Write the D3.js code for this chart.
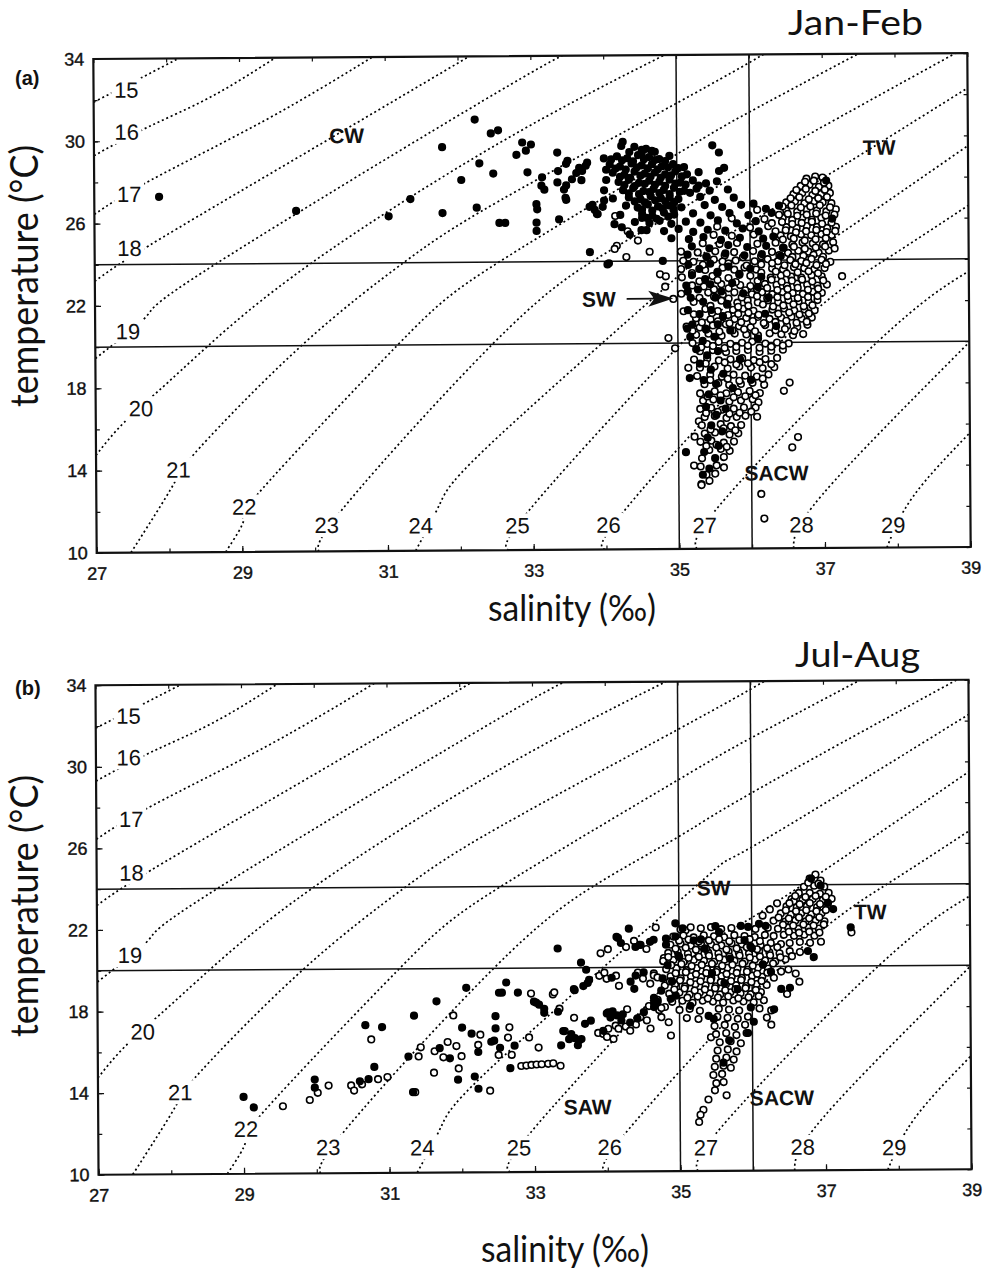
<!DOCTYPE html>
<html>
<head>
<meta charset="utf-8">
<script src="https://cdn.jsdelivr.net/npm/d3@7"></script>
<style>
  body { margin: 0; background: #fff; }
</style>
</head>
<body>
<svg id="fig" width="985" height="1277"></svg>
<script>
// ---- axes / ticks ----
var xTicks = [27, 29, 31, 33, 35, 37, 39];
var xMinor = [27, 28, 29, 30, 31, 32, 33, 34, 35, 36, 37, 38, 39];
var yTicks = [10, 14, 18, 22, 26, 30, 34];
var yMinor = [10, 12, 14, 16, 18, 20, 22, 24, 26, 28, 30, 32, 34];

// water mass limits (salinity, temperature)
var limitS = [35, 36];
var limitT = [20, 24];

// ---- sigma-t isopycnals, [S, T] ----
var sigmaLevels = [15, 16, 17, 18, 19, 20, 21, 22, 23, 24, 25, 26, 27, 28, 29];
var sigmaCurves = [
  [[27,31.9],[27.69,33.13],[28.17,34]],
  [[27,29.3],[27.74,30.67],[28.6,32.1],[29.5,34]],
  [[27,26.45],[27.78,28.1],[29.35,30.96],[30.83,34]],
  [[27,23.2],[27.74,24.9],[29.8,29.15],[32.16,34]],
  [[27,19.45],[27.71,21.5],[28.66,24],[32.55,32.26],[33.5,34]],
  [[27,14.75],[27.38,16.3],[27.92,18.03],[28.54,20],[29.97,24],[32.55,29.75],[34.84,34]],
  [[27.47,10],[28.06,13.3],[28.43,15.1],[29.83,20],[31.24,24],[32.55,26.95],[35,31.65],[36.2,34]],
  [[28.77,10],[29.02,11.55],[29.29,13.1],[31.15,20],[32.55,24],[35,29.18],[36,31.2],[37.5,34]],
  [[30.05,10],[30.45,12.35],[32.45,20],[33.83,24],[35,26.39],[36,28.5],[38.84,34]],
  [[31.38,10],[31.72,12.3],[32.55,15.6],[35.2,23.85],[36,25.85],[39,32.3]],
  [[32.66,10],[33.03,12.3],[35.05,20],[36,22.4],[39,29.5]],
  [[33.98,10],[34.3,12.1],[36.4,20],[37.86,24],[39,26.6]],
  [[35.24,10],[35.64,12.45],[37.74,20],[39,23.4]],
  [[36.57,10],[36.97,12.6],[39,19.95]],
  [[37.85,10],[38.22,12.5],[39,15.55]]
];
var sigmaLabelAt = [
  [27.45,32.49],[27.45,30.45],[27.48,27.43],[27.48,24.8],[27.45,20.76],
  [27.62,17.01],[28.13,14.02],[29.03,12.2],[30.16,11.28],[31.45,11.23],
  [32.78,11.2],[34.03,11.2],[35.35,11.15],[36.68,11.15],[37.94,11.1]
];

// ---- (a) Jan-Feb stations, [S, T] ----
var janFilled = [
  [27.89,27.28],[29.77,26.55],[31.04,26.26],[31.34,27.09],[31.78,29.6],[31.78,26.4],[32.23,30.93],[32.04,28.0],
  [32.29,28.8],[32.25,26.65],[32.45,30.25],[32.55,30.4],[32.48,28.3],[32.56,25.9],[32.64,25.9],
  [32.88,29.8],[33.0,29.7],[32.8,29.2],[32.93,29.4],[32.95,28.35],[33.36,29.3],[33.5,28.9],[33.37,28.4],
  [33.15,28.1],[33.14,27.7],[33.18,27.5],[33.36,27.85],[33.48,27.7],[33.69,27.95],[33.77,28.8],[33.66,28.55],
  [33.62,28.3],[33.47,27.1],[33.07,26.8],[33.08,26.55],[33.07,25.9],[33.07,25.5],[33.38,26.05],[33.8,26.65],
  [33.87,26.5],[33.91,26.3],[34.0,29.0],[34.1,28.95],[34.03,28.45],[34.03,27.95],[34.0,27.45],[34.0,26.95],
  [33.8,24.45],[34.04,23.85],[34.26,29.8],[34.24,29.6],[34.52,29.4],[35.49,29.6],[35.58,29.25],[35.65,28.5],[35.58,28.35],
  [33.48,28.75],[33.75,28.65],[33.7,28.4],[33.56,28.0],[33.45,27.5],[33.48,27.0],[33.84,26.75],[33.98,26.65],
  [33.9,26.3],[34.14,25.8],[34.24,25.65],[34.35,25.3],[34.51,25.5],[34.52,26.1],
  [34.06,23.9],[34.8,24.0],[35.14,22.5],[35.13,20.7],
  // dense blob
  [34.42,29.55],[34.58,29.45],[34.7,29.3],
  [34.18,29.1],[34.32,29.0],[34.47,29.15],[34.62,29.05],[34.76,28.95],[34.9,29.1],
  [34.08,28.7],[34.22,28.6],[34.38,28.75],[34.52,28.65],[34.66,28.7],[34.8,28.6],[34.95,28.7],[35.1,28.55],
  [34.12,28.3],[34.28,28.2],[34.42,28.35],[34.56,28.25],[34.7,28.3],[34.84,28.2],[34.98,28.35],[35.14,28.2],[35.3,28.3],
  [34.2,27.85],[34.34,27.95],[34.48,27.8],[34.62,27.9],[34.76,27.85],[34.9,27.95],[35.05,27.8],[35.22,27.9],[35.4,27.75],[35.55,27.85],
  [34.26,27.45],[34.4,27.55],[34.54,27.4],[34.68,27.5],[34.82,27.45],[34.96,27.55],[35.1,27.4],[35.27,27.5],[35.45,27.4],[35.7,27.45],
  [34.12,27.05],[34.34,27.1],[34.5,27.0],[34.64,27.15],[34.78,27.05],[34.9,27.1],[35.02,27.0],[35.32,27.1],[35.52,26.95],[35.78,27.05],
  [34.3,26.7],[34.46,26.6],[34.6,26.75],[34.74,26.65],[34.88,26.7],[35.06,26.6],[35.38,26.7],[35.62,26.6],[35.88,26.7],
  [34.22,26.25],[34.52,26.3],[34.66,26.2],[34.82,26.35],[34.96,26.25],[35.22,26.3],[35.46,26.2],[35.72,26.3],[35.98,26.2],
  [34.42,25.9],[34.62,25.85],[34.76,25.95],[34.92,25.8],[35.12,25.9],[35.32,25.85],[35.56,25.95],[35.82,25.8],[36.08,25.9],
  [34.58,25.5],[34.82,25.45],[35.02,25.55],[35.22,25.4],[35.42,25.5],[35.66,25.45],[35.9,25.55],[36.12,25.4],
  [34.92,25.1],[35.16,25.05],[35.36,25.15],[35.6,25.0],[35.86,25.1],[36.18,25.05],[36.32,25.15],
  [35.2,24.7],[35.44,24.6],[35.7,24.75],[35.96,24.65],[36.22,24.7],[36.46,24.6],
  [35.14,24.3],[35.4,24.2],[35.66,24.35],[35.92,24.25],[36.16,24.3],[36.42,24.2],
  [36.22,26.5],[36.4,26.65],[36.05,26.75],[36.3,26.3],[37.05,27.85],[37.13,26.0],
  // blob core, in between
  [34.35,29.3],[34.52,29.25],[34.66,29.35],
  [34.25,28.9],[34.4,28.85],[34.55,28.95],[34.7,28.9],[34.84,28.85],
  [34.16,28.5],[34.3,28.45],[34.45,28.55],[34.6,28.5],[34.74,28.45],[34.88,28.55],[35.02,28.5],
  [34.22,28.1],[34.36,28.05],[34.5,28.15],[34.64,28.1],[34.78,28.05],[34.92,28.15],[35.07,28.1],
  [34.28,27.7],[34.42,27.65],[34.56,27.75],[34.7,27.7],[34.84,27.65],[34.98,27.75],[35.12,27.7],[35.3,27.65],
  [34.34,27.3],[34.48,27.25],[34.62,27.35],[34.76,27.3],[34.9,27.25],[35.04,27.35],[35.18,27.3],
  [34.42,26.9],[34.56,26.85],[34.7,26.95],[34.84,26.9],[34.96,26.85],
  [34.52,26.5],[34.66,26.45],[34.8,26.55],[34.95,26.5],
  [34.58,26.1],[34.72,26.05],[34.88,26.15],
  // below 24 degC
  [35.15,23.8],[35.3,23.6],[35.45,23.85],[35.2,23.3],[35.38,23.1],[35.55,23.4],[35.7,23.7],[35.85,23.3],[36.0,23.6],
  [36.15,23.2],[35.12,22.8],[35.28,22.6],[35.45,22.85],[35.6,22.5],[35.75,22.9],[35.18,22.2],[35.35,22.0],[35.52,22.2],
  [35.68,21.9],[35.9,22.4],[36.1,22.7],[36.25,22.2],[35.14,21.6],[35.3,21.4],[35.46,21.6],[35.62,21.3],[35.2,20.9],
  [35.38,20.7],[35.55,20.9],[35.72,20.6],[35.17,20.3],[35.34,20.1],[35.5,20.3],[36.2,21.4],[36.35,20.8],[36.1,20.2],
  // tongue
  [35.25,19.7],[35.4,19.4],[35.55,19.6],[35.3,19.0],[35.45,18.7],[35.35,18.2],[35.52,18.0],[35.62,18.5],[35.42,17.5],
  [35.58,17.2],[35.38,16.9],[35.52,16.5],[35.65,16.8],[35.45,16.0],[35.6,15.7],[35.4,15.4],[35.55,15.0],[35.35,14.7],
  [35.5,14.4],[35.42,13.9],[35.33,13.6],[35.75,17.8],[35.85,19.2],[36.0,18.2],[35.16,18.3],[35.1,14.7]
];
var janOpen = [
  [34.17,24.75],[34.3,24.2],[34.62,24.45],[34.46,25.0],[34.15,26.2],[34.32,25.45],[34.14,24.6],[34.76,23.35],
  [34.84,23.25],[34.83,22.75],[34.94,22.15],[34.87,20.25],[34.96,19.75],[35.14,18.8],[35.3,17.55],[35.28,16.2],
  [35.22,15.45],[35.21,14.05],[35.31,13.15],
  [36.53,18.05],[36.45,17.65],[36.64,15.4],[36.56,14.9],[36.13,12.65],[36.17,11.45],[37.26,23.2],
  // TW group
  [36.78,27.95],[36.9,28.05],[37.0,28.0],
  [36.7,27.6],[36.82,27.65],[36.95,27.55],[37.08,27.6],
  [36.6,27.2],[36.72,27.25],[36.86,27.15],[36.98,27.2],[37.1,27.25],
  [36.5,26.8],[36.62,26.85],[36.75,26.75],[36.88,26.85],[37.0,26.8],[37.12,26.75],
  [36.1,26.45],[36.5,26.4],[36.65,26.35],[36.78,26.45],[36.92,26.4],[37.05,26.35],[37.18,26.45],
  [35.75,26.05],[36.2,26.0],[36.45,26.05],[36.58,25.95],[36.72,26.05],[36.85,25.95],[36.98,26.05],
  [35.55,25.65],[36.0,25.6],[36.25,25.65],[36.5,25.6],[36.64,25.55],[36.78,25.65],[36.92,25.6],[37.06,25.55],[37.18,25.6],
  [35.5,25.25],[35.75,25.2],[36.05,25.25],[36.42,25.2],[36.56,25.15],[36.7,25.25],[36.84,25.2],[36.98,25.25],[37.12,25.2],
  [35.35,24.85],[35.58,24.8],[35.82,24.85],[36.1,24.8],[36.35,24.85],[36.58,24.75],[36.72,24.85],[36.86,24.8],[37.0,24.75],[37.14,24.85],
  [35.05,24.45],[35.28,24.4],[35.52,24.45],[35.78,24.4],[36.04,24.45],[36.3,24.4],[36.52,24.35],[36.66,24.45],[36.8,24.4],[36.94,24.35],[37.08,24.45],
  [36.76,27.8],[36.88,27.85],[37.02,27.75],
  [36.64,27.4],[36.77,27.45],[36.9,27.35],[37.03,27.4],
  [36.56,27.0],[36.68,27.05],[36.81,26.95],[36.94,27.0],[37.06,27.05],
  [36.45,26.6],[36.57,26.65],[36.7,26.55],[36.83,26.6],[36.96,26.65],[37.1,26.55],
  [36.4,26.2],[36.52,26.25],[36.65,26.15],[36.78,26.2],[36.91,26.25],[37.04,26.15],[37.16,26.2],
  [36.3,25.8],[36.44,25.85],[36.58,25.75],[36.71,25.8],[36.85,25.85],[36.99,25.75],[37.12,25.8],
  [36.35,25.4],[36.49,25.45],[36.63,25.35],[36.77,25.4],[36.91,25.45],[37.05,25.35],[37.17,25.4],
  [36.45,25.0],[36.6,25.05],[36.75,24.95],[36.9,25.0],[37.04,25.05],
  [36.45,24.6],[36.6,24.65],[36.75,24.55],[36.9,24.6],[37.03,24.65],[37.16,24.55],
  [35.4,24.2],[35.65,24.25],[35.9,24.15],[36.15,24.2],[36.4,24.25],[36.58,24.15],[36.73,24.2],[36.87,24.25],[37.0,24.15],
  // between 24 and 20 degC
  [35.08,24.0],[35.22,23.95],[35.5,24.05],[35.62,23.95],[35.8,24.0],[36.06,23.95],[36.24,24.05],[36.38,23.95],[36.55,24.0],[36.7,23.95],[36.84,24.05],[36.98,24.0],[37.1,23.9],
  [35.05,23.6],[35.38,23.55],[35.62,23.65],[35.78,23.55],[35.92,23.65],[36.08,23.55],[36.3,23.6],[36.45,23.55],[36.6,23.65],[36.74,23.6],[36.88,23.55],[37.02,23.6],
  [35.06,23.2],[35.48,23.25],[35.7,23.15],[36.0,23.25],[36.28,23.15],[36.42,23.25],[36.56,23.2],[36.7,23.15],[36.84,23.25],[36.98,23.2],
  [35.2,22.8],[35.36,22.75],[35.6,22.85],[35.86,22.8],[36.0,22.75],[36.2,22.85],[36.36,22.8],[36.5,22.75],[36.64,22.85],[36.78,22.8],[36.92,22.75],[37.05,22.8],
  [35.05,22.4],[35.42,22.45],[35.62,22.35],[35.78,22.45],[36.02,22.35],[36.16,22.45],[36.3,22.35],[36.44,22.45],[36.58,22.4],[36.72,22.35],[36.86,22.45],[36.98,22.4],
  [35.22,22.0],[35.6,22.05],[35.82,21.95],[35.96,22.05],[36.1,21.95],[36.24,22.05],[36.38,21.95],[36.52,22.05],[36.66,22.0],[36.8,21.95],[36.92,22.05],
  [35.08,21.55],[35.38,21.65],[35.55,21.55],[35.76,21.6],[35.9,21.65],[36.04,21.55],[36.3,21.6],[36.46,21.65],[36.6,21.55],[36.74,21.6],[36.88,21.55],
  [35.25,21.2],[35.45,21.15],[35.62,21.25],[35.78,21.15],[35.94,21.2],[36.1,21.25],[36.26,21.15],[36.42,21.2],[36.56,21.25],[36.7,21.15],[36.84,21.2],
  [35.12,20.8],[35.3,20.75],[35.48,20.85],[35.66,20.9],[35.84,20.8],[36.0,20.75],[36.2,20.85],[36.5,20.8],[36.64,20.75],[36.78,20.85],
  [35.25,20.4],[35.42,20.45],[35.6,20.35],[35.78,20.45],[35.94,20.4],[36.1,20.35],[36.26,20.45],[36.42,20.4],[36.58,20.35],[36.72,20.4],
  [35.35,23.8],[35.7,23.85],[35.95,23.75],[36.15,23.8],[36.3,23.85],[36.47,23.75],[36.62,23.8],[36.77,23.85],[36.91,23.75],[37.04,23.8],
  [35.2,23.4],[35.55,23.45],[35.85,23.35],[36.15,23.4],[36.35,23.45],[36.5,23.35],[36.65,23.4],[36.8,23.45],[36.93,23.35],
  [35.3,23.0],[35.55,23.05],[35.8,22.95],[36.1,23.0],[36.29,23.05],[36.43,22.95],[36.57,23.0],[36.71,23.05],[36.85,22.95],[37.0,23.0],
  [35.5,22.6],[35.7,22.65],[35.93,22.55],[36.09,22.6],[36.23,22.65],[36.37,22.55],[36.51,22.6],[36.65,22.65],[36.79,22.55],[36.93,22.6],
  [35.3,22.2],[35.5,22.25],[35.7,22.15],[35.88,22.2],[36.09,22.25],[36.23,22.15],[36.37,22.2],[36.51,22.25],[36.65,22.15],[36.79,22.2],[36.92,22.25],
  [35.45,21.8],[35.68,21.85],[35.83,21.75],[35.97,21.8],[36.17,21.85],[36.31,21.75],[36.45,21.8],[36.59,21.85],[36.73,21.75],[36.85,21.8],
  [35.22,21.4],[35.47,21.45],[35.69,21.35],[35.83,21.4],[35.97,21.45],[36.11,21.35],[36.38,21.4],[36.53,21.45],[36.67,21.35],[36.8,21.4],
  [35.33,21.0],[35.55,21.05],[35.71,20.95],[35.87,21.0],[36.03,21.05],[36.18,20.95],[36.34,21.0],[36.49,21.05],[36.63,20.95],[36.77,21.0],
  [35.2,20.6],[35.39,20.65],[35.57,20.55],[35.75,20.6],[35.91,20.65],[36.06,20.55],[36.34,20.6],[36.47,20.65],[36.6,20.55],
  // SACW tongue
  [35.2,20.0],[35.4,19.95],[35.56,20.05],[35.72,19.95],[35.88,20.0],[36.02,20.05],[36.2,19.95],[36.36,20.0],[36.52,19.95],
  [35.3,19.6],[35.48,19.65],[35.66,19.55],[35.8,19.6],[35.96,19.65],[36.12,19.55],[36.28,19.6],[36.44,19.65],
  [35.22,19.2],[35.4,19.25],[35.56,19.15],[35.72,19.2],[35.88,19.25],[36.04,19.15],[36.2,19.2],[36.36,19.25],
  [35.3,18.8],[35.5,18.85],[35.68,18.75],[35.84,18.85],[36.0,18.8],[36.16,18.75],[36.32,18.8],
  [35.26,18.4],[35.44,18.45],[35.6,18.35],[35.76,18.45],[35.92,18.4],[36.08,18.35],[36.24,18.45],
  [35.36,18.0],[35.55,18.05],[35.7,17.95],[35.86,18.0],[36.02,18.05],[36.18,17.95],
  [35.5,17.65],[35.66,17.55],[35.82,17.6],[35.98,17.65],[36.12,17.55],
  [35.34,17.2],[35.48,17.25],[35.7,17.15],[35.86,17.2],[36.02,17.25],[36.1,17.1],
  [35.3,16.8],[35.45,16.85],[35.6,16.75],[35.76,16.8],[35.9,16.85],[36.06,16.85],
  [35.36,16.4],[35.5,16.45],[35.66,16.35],[35.8,16.4],[35.92,16.45],[36.08,16.4],
  [35.32,16.0],[35.58,16.05],[35.72,15.95],[35.86,16.0],
  [35.36,15.6],[35.5,15.65],[35.7,15.55],[35.82,15.6],
  [35.3,15.2],[35.45,15.25],[35.62,15.15],[35.76,15.2],
  [35.42,14.8],[35.58,14.85],[35.7,14.75],
  [35.32,14.4],[35.62,14.45],
  [35.3,14.0],[35.52,14.05],[35.62,13.95],
  [35.38,13.6],[35.5,13.65],[35.42,13.3],[35.31,13.1],
  [35.32,19.8],[35.48,19.85],[35.64,19.75],[35.8,19.8],[35.96,19.85],[36.12,19.75],[36.28,19.8],[36.44,19.85],
  [35.38,19.0],[35.64,19.05],[35.8,18.95],[35.96,19.0],[36.12,19.05],[36.28,18.95],
  [35.44,18.2],[35.68,18.25],[35.84,18.15],[36.0,18.2],[36.16,18.25],
  [35.4,17.4],[35.58,17.45],[35.76,17.35],[35.92,17.4],[36.06,17.45],
  [35.38,16.6],[35.54,16.65],[35.7,16.55],[35.84,16.6],[36.0,16.65],
  [35.44,15.8],[35.62,15.85],[35.78,15.75],
  [35.38,15.0],[35.52,15.05],[35.66,14.95]
];

// ---- (b) Jul-Aug stations, [S, T] ----
var julFilled = [
  [29.0,13.77],[29.14,13.25],[29.98,14.6],[29.98,14.2],[30.68,17.25],[30.91,17.15],[30.8,15.2],[30.72,14.6],[30.6,14.5],
  [31.35,17.7],[31.27,15.7],[31.33,13.95],[31.66,18.4],[32.07,19.05],[32.01,17.1],[32.14,16.8],[31.7,16.1],[31.84,15.6],
  [31.95,14.55],[32.18,14.7],[32.23,14.1],[32.23,15.9],[32.47,17.65],[32.47,17.05],[32.41,16.4],[32.52,18.8],[32.45,16.45],
  [32.56,18.8],[32.78,18.8],[32.62,19.3],[33.0,18.35],[33.07,18.2],[33.14,18.0],[32.73,16.2],[32.53,16.1],[32.67,15.1],
  [33.65,20.25],[33.74,19.25],[33.68,19.1],[33.56,18.9],[34.33,19.3],[34.4,19.6],[34.38,18.95],[34.77,19.45],[34.75,18.85],
  [34.84,20.1],[33.33,20.95],[33.72,19.9],[33.03,18.3],[33.14,17.8],[33.33,17.85],[33.55,18.95],[33.76,19.4],[34.07,19.5],
  [34.2,21.2],[34.14,21.5],[34.31,21.9],[34.65,21.35],[34.82,21.4],[34.95,21.5],[34.4,21.0],[34.47,21.1],[34.16,21.45],
  [34.95,22.15],[34.6,21.25],
  // lower branch
  [33.4,16.9],[33.48,16.5],[33.56,16.55],[33.65,16.5],[33.6,16.2],[33.37,16.2],[33.51,16.75],[33.78,17.4],[33.7,17.25],
  [33.95,16.9],[34.02,17.8],[34.08,17.85],[34.14,17.65],[34.22,17.7],[34.2,17.4],[34.32,17.3],[34.42,17.5],[34.51,17.8],
  [34.65,18.05],[34.65,18.25],[34.7,18.3],[34.88,18.45],[34.0,17.75],[34.05,17.55],[33.62,16.45],
  // main group
  [35.05,21.9],[35.85,22.0],[35.95,21.95],[36.19,22.0],[36.1,22.1],[35.5,22.0],
  [35.0,20.5],[35.2,21.3],[35.35,20.9],[35.55,21.7],[35.7,20.4],[35.9,21.3],[36.0,20.9],[36.15,20.1],[35.45,19.7],
  [35.62,19.2],[35.8,18.9],[36.26,19.75],[36.4,18.9],[36.52,18.95],[36.77,20.75],[36.85,20.45],[37.12,22.8],[35.4,17.6],
  [35.47,17.45],[35.98,18.0],[36.02,17.3],[35.94,16.75],[34.51,19.75],[34.65,18.5],[34.82,21.1],[34.95,18.6],[35.3,21.35],
  [35.98,21.0],[36.95,23.95],[36.82,24.3],[37.05,23.1],[36.3,17.9],[35.15,18.1],[34.9,19.3],[35.68,16.4],[35.6,15.3],
  [37.36,21.9]
];
var julOpen = [
  [29.54,13.3],[29.91,13.6],[30.02,13.95],[30.17,14.3],[30.48,14.3],[30.52,14.05],[30.63,14.35],[30.76,16.55],[30.85,14.6],
  [30.98,14.7],[31.36,13.95],[31.41,15.7],[31.44,16.15],[31.62,14.9],[31.63,15.95],[31.75,15.65],[31.81,16.4],[31.89,17.7],
  [31.93,16.2],[31.96,15.1],[32.0,15.7],[32.26,16.75],[32.23,16.25],[32.39,14.0],[32.51,15.75],[32.66,17.1],[32.64,16.6],
  [32.93,16.6],[33.06,16.1],[32.69,15.75],[32.82,15.2],[32.89,15.22],[32.96,15.25],[33.03,15.27],[33.1,15.28],[33.19,15.3],
  [33.26,15.32],[33.36,15.2],[32.96,18.75],[33.26,18.7],[33.35,18.0],[33.28,18.8],[33.42,16.9],[33.55,17.55],
  [33.9,19.6],[33.97,19.75],[34.13,19.6],[34.17,19.1],[34.0,19.45],[34.43,19.75],[34.65,19.7],[34.5,19.45],[34.6,19.2],
  [33.92,20.7],[34.02,20.9],[34.27,21.0],[34.45,21.1],[34.55,20.9],[34.68,21.95],[35.09,21.8],[34.38,21.3],
  [33.88,16.8],[33.95,16.75],[34.02,17.0],[34.09,16.5],[34.12,17.15],[34.0,16.6],[34.16,17.0],[34.28,17.95],[34.26,17.1],
  [34.32,16.9],[34.4,17.2],[34.46,17.55],[34.55,17.4],[34.6,17.0],[34.75,17.55],[34.72,17.9],[34.8,18.05],[34.58,18.1],
  [34.85,17.3],
  [34.88,16.65],[35.43,16.55],[35.39,13.5],[35.64,13.7],[35.32,13.0],[35.28,12.75],[35.26,12.4],[37.37,21.65],
  [34.79,20.45],[34.65,19.6],[34.75,18.0],[34.7,18.4],
  // TW corner
  [36.88,24.5],[36.8,24.3],[36.95,24.2],[36.72,23.9],[36.86,23.95],[37.0,23.9],[36.65,23.6],[36.8,23.6],[36.94,23.55],
  [37.06,23.6],[36.55,23.3],[36.7,23.25],[36.84,23.3],[36.98,23.25],[37.1,23.3],[36.48,22.95],[36.62,22.9],[36.76,22.95],
  [36.9,22.9],[37.04,22.95],[36.4,22.6],[36.54,22.55],[36.68,22.6],[36.82,22.55],[36.96,22.6],[36.3,22.25],[36.46,22.2],
  [36.6,22.25],[36.74,22.2],[36.88,22.25],[37.0,22.2],[36.22,21.9],[36.36,21.85],[36.5,21.9],[36.64,21.85],[36.78,21.9],
  [36.92,21.85],[36.3,21.5],[36.44,21.55],[36.58,21.5],[36.72,21.55],[36.86,21.5],[36.95,21.2],[36.8,21.15],[36.66,21.2],
  [36.52,21.15],[36.15,22.5],[36.25,22.8],[36.35,23.1],[36.58,23.2],
  [36.78,24.1],[36.92,24.05],[36.6,23.45],[36.74,23.4],[36.88,23.45],[37.02,23.4],[36.52,23.1],[36.66,23.05],[36.8,23.1],
  [36.94,23.05],[36.47,22.75],[36.61,22.7],[36.75,22.75],[36.89,22.7],[37.02,22.75],[36.37,22.4],[36.51,22.35],[36.65,22.4],
  [36.79,22.35],[36.93,22.4],[36.43,22.05],[36.57,22.0],[36.71,22.05],[36.85,22.0],[36.99,22.05],[36.51,21.7],[36.65,21.65],
  [36.79,21.7],[36.93,21.65],
  // main band
  [35.02,21.85],[35.16,21.95],[35.3,21.9],[35.44,21.95],[35.58,21.85],[35.72,21.9],[36.05,21.85],
  [34.92,21.5],[35.06,21.55],[35.2,21.45],[35.34,21.55],[35.48,21.5],[35.62,21.45],[35.76,21.55],[35.9,21.5],[36.04,21.45],[36.18,21.55],
  [34.88,21.1],[35.02,21.15],[35.16,21.05],[35.3,21.15],[35.44,21.1],[35.58,21.05],[35.72,21.15],[35.86,21.1],[36.12,21.05],[36.26,21.15],[36.4,21.1],
  [34.85,20.7],[34.98,20.75],[35.12,20.65],[35.26,20.75],[35.4,20.7],[35.54,20.65],[35.68,20.75],[35.82,20.7],[35.96,20.65],[36.1,20.75],[36.24,20.7],[36.38,20.65],[36.52,20.75],[36.66,20.7],
  [34.78,20.3],[34.92,20.35],[35.06,20.25],[35.2,20.35],[35.34,20.3],[35.48,20.25],[35.62,20.35],[35.76,20.3],[35.9,20.25],[36.04,20.35],[36.18,20.3],[36.32,20.25],[36.46,20.35],
  [34.82,19.9],[34.96,19.95],[35.1,19.85],[35.24,19.95],[35.38,19.9],[35.52,19.85],[35.66,19.95],[35.8,19.9],[35.94,19.85],[36.08,19.95],[36.22,19.9],[36.5,19.85],[36.6,19.65],
  [34.7,19.5],[34.88,19.55],[35.02,19.45],[35.16,19.55],[35.3,19.5],[35.44,19.45],[35.58,19.55],[35.72,19.5],[35.86,19.45],[36.0,19.55],[36.14,19.5],[36.3,19.45],[36.65,19.25],
  [34.8,19.1],[34.94,19.15],[35.08,19.05],[35.22,19.15],[35.36,19.1],[35.5,19.05],[35.64,19.15],[35.78,19.1],[35.92,19.05],[36.06,19.15],[36.2,19.1],
  [34.86,18.7],[35.0,18.75],[35.14,18.65],[35.28,18.75],[35.42,18.7],[35.56,18.65],[35.7,18.75],[35.84,18.7],[35.98,18.65],[36.12,18.75],[36.48,18.65],
  [34.9,18.3],[35.04,18.35],[35.18,18.25],[35.32,18.35],[35.46,18.3],[35.6,18.25],[35.74,18.35],[35.88,18.3],[36.02,18.25],[36.16,18.35],
  [35.0,17.9],[35.14,17.95],[35.28,17.85],[35.54,17.95],[35.68,17.9],[35.82,17.85],[36.1,17.95],[36.26,17.85],
  [35.1,17.5],[35.26,17.45],[35.52,17.55],[35.66,17.5],[35.8,17.45],[35.94,17.55],[36.2,17.5],
  [35.48,17.1],[35.62,17.15],[35.76,17.05],[35.9,17.15],[36.26,17.15],
  [35.5,16.7],[35.64,16.75],[35.78,16.65],[35.92,16.75],
  [35.55,16.3],[35.7,16.35],[35.84,16.25],
  [35.52,15.9],[35.66,15.95],[35.78,15.85],
  [35.5,15.5],[35.64,15.55],[35.74,15.45],
  [35.48,15.1],[35.6,15.15],[35.7,15.05],
  [35.46,14.7],[35.58,14.75],
  [35.5,14.3],[35.6,14.35],[35.48,13.95],
  [35.0,21.3],[35.13,21.35],[35.27,21.25],[35.41,21.3],[35.55,21.35],[35.69,21.25],[35.83,21.3],[35.97,21.35],[36.11,21.25],
  [34.95,20.9],[35.09,20.95],[35.23,20.85],[35.37,20.9],[35.51,20.95],[35.65,20.85],[35.79,20.9],[35.93,20.95],[36.07,20.85],[36.21,20.9],[36.35,20.95],
  [34.85,20.5],[34.99,20.55],[35.13,20.45],[35.27,20.5],[35.41,20.55],[35.55,20.45],[35.69,20.5],[35.83,20.55],[35.97,20.45],[36.11,20.5],[36.25,20.55],[36.39,20.45],[36.55,20.5],
  [34.89,20.1],[35.03,20.15],[35.17,20.05],[35.31,20.1],[35.45,20.15],[35.59,20.05],[35.73,20.1],[35.87,20.15],[36.01,20.05],[36.15,20.1],[36.29,20.15],
  [34.95,19.7],[35.09,19.75],[35.23,19.65],[35.37,19.7],[35.51,19.75],[35.65,19.65],[35.79,19.7],[35.93,19.75],[36.07,19.65],[36.21,19.7],[36.4,19.75],
  [34.87,19.3],[35.01,19.35],[35.15,19.25],[35.29,19.3],[35.43,19.35],[35.57,19.25],[35.71,19.3],[35.85,19.35],[35.99,19.25],[36.13,19.3],
  [34.93,18.9],[35.07,18.95],[35.21,18.85],[35.35,18.9],[35.49,18.95],[35.63,18.85],[35.77,18.9],[35.91,18.95],[36.05,18.85],
  [35.11,18.5],[35.25,18.55],[35.39,18.45],[35.53,18.5],[35.67,18.55],[35.81,18.45],[35.95,18.5],[36.09,18.55]
];

// ---- water mass labels ----
var janNotes = [
  {text: "CW", s: 30.47, t: 30.2},
  {text: "TW", s: 37.78, t: 29.45},
  {text: "SW", s: 33.92, t: 22.17},
  {text: "SACW", s: 36.34, t: 13.67}
];
var julNotes = [
  {text: "SW", s: 35.48, t: 23.88},
  {text: "TW", s: 37.63, t: 22.66},
  {text: "SAW", s: 33.73, t: 13.18},
  {text: "SACW", s: 36.4, t: 13.57}
];
var janArrow = [[34.3, 22.17], [34.94, 22.17]];

var svg = d3.select("#fig");
var sans = "'Liberation Sans', Arial, Helvetica, sans-serif";
var light = "Lato, 'Open Sans', sans-serif";

var panels = [
  {key: "a", tag: "(a)", season: "Jan-Feb", x0: 95, y0: 56, w: 874, h: 494, rot: -0.39,
   filled: janFilled, open: janOpen, notes: janNotes, arrow: janArrow,
   tagY: 85, seasonX: 788, seasonY: 35, seasonLen: 135, yTitleY: 276, xTitleX: 572, xTitleY: 621},
  {key: "b", tag: "(b)", season: "Jul-Aug", x0: 97, y0: 682.5, w: 873, h: 489.5, rot: -0.36,
   filled: julFilled, open: julOpen, notes: julNotes, arrow: null,
   tagY: 695, seasonX: 795, seasonY: 667, seasonLen: 125, yTitleY: 906, xTitleX: 565, xTitleY: 1262}
];

panels.forEach(drawPanel);

function drawPanel(p) {
  var x = d3.scaleLinear().domain([27, 39]).range([0, p.w]);
  var y = d3.scaleLinear().domain([10, 34]).range([p.h, 0]);

  var g = svg.append("g")
      .attr("transform", "translate(" + p.x0 + "," + p.y0 + ") rotate(" + p.rot + "," + (p.w / 2) + "," + (p.h / 2) + ")");

  g.append("clipPath").attr("id", "clip" + p.key)
    .append("rect").attr("width", p.w).attr("height", p.h);
  var plot = g.append("g").attr("clip-path", "url(#clip" + p.key + ")");

  // isopycnals
  var line = d3.line()
      .x(function(d) { return x(d[0]); })
      .y(function(d) { return y(d[1]); })
      .curve(d3.curveNatural);
  plot.selectAll(".iso").data(sigmaCurves).enter().append("path")
      .attr("class", "iso")
      .attr("d", line)
      .attr("fill", "none")
      .attr("stroke", "#000")
      .attr("stroke-width", 1.7)
      .attr("stroke-dasharray", "2,2.8");

  // gaps behind the sigma labels
  plot.selectAll(".isoGap").data(sigmaLabelAt).enter().append("rect")
      .attr("x", function(d) { return x(d[0]) - 15; })
      .attr("y", function(d) { return y(d[1]) - 12; })
      .attr("width", 30).attr("height", 24)
      .attr("fill", "#fff");

  // water mass limits
  limitS.forEach(function(s) {
    plot.append("line").attr("x1", x(s)).attr("x2", x(s)).attr("y1", y(10)).attr("y2", y(34))
        .attr("stroke", "#111").attr("stroke-width", 1.5);
  });
  limitT.forEach(function(t) {
    plot.append("line").attr("x1", x(27)).attr("x2", x(39)).attr("y1", y(t)).attr("y2", y(t))
        .attr("stroke", "#111").attr("stroke-width", 1.5);
  });

  plot.selectAll(".isoLabel").data(sigmaLabelAt).enter().append("text")
      .attr("x", function(d) { return x(d[0]); })
      .attr("y", function(d) { return y(d[1]); })
      .attr("dy", "0.36em")
      .attr("text-anchor", "middle")
      .style("font-family", sans).style("font-size", "22px").attr("fill", "#111")
      .text(function(d, i) { return sigmaLevels[i]; });

  // stations: open first, filled on top
  plot.selectAll(".open").data(p.open).enter().append("circle")
      .attr("cx", function(d) { return x(d[0]); })
      .attr("cy", function(d) { return y(d[1]); })
      .attr("r", 3.3)
      .attr("fill", "#fff").attr("stroke", "#000").attr("stroke-width", 1.6);
  plot.selectAll(".filled").data(p.filled).enter().append("circle")
      .attr("cx", function(d) { return x(d[0]); })
      .attr("cy", function(d) { return y(d[1]); })
      .attr("r", 4.1)
      .attr("fill", "#000");

  // water mass names
  plot.selectAll(".note").data(p.notes).enter().append("text")
      .attr("x", function(d) { return x(d.s); })
      .attr("y", function(d) { return y(d.t); })
      .attr("dy", "0.36em")
      .attr("text-anchor", "middle")
      .style("font-family", sans).style("font-size", "21px").style("font-weight", "bold")
      .attr("fill", "#111")
      .text(function(d) { return d.text; });

  if (p.arrow) {
    var a0 = p.arrow[0], a1 = p.arrow[1];
    var tx = x(a1[0]), ty = y(a1[1]);
    plot.append("line").attr("x1", x(a0[0])).attr("y1", y(a0[1])).attr("x2", tx - 18).attr("y2", ty)
        .attr("stroke", "#111").attr("stroke-width", 1.6);
    plot.append("path")
        .attr("d", "M" + tx + "," + ty + "L" + (tx - 25) + "," + (ty - 8) + "L" + (tx - 19) + "," + ty + "L" + (tx - 25) + "," + (ty + 8) + "Z")
        .attr("fill", "#111");
  }

  // frame and ticks
  function tidy(sel) {
    sel.select(".domain").remove();
    sel.selectAll("line").attr("stroke", "#111").attr("stroke-width", 1.2);
    sel.selectAll("text").style("font-family", sans).style("font-size", "18px")
       .attr("fill", "#111").attr("stroke", "#111").attr("stroke-width", 0.4);
  }
  g.append("g").attr("transform", "translate(0," + p.h + ")")
      .call(d3.axisBottom(x).tickValues(xTicks).tickSizeInner(-6).tickSizeOuter(0).tickPadding(14).tickFormat(d3.format("d")))
      .call(tidy);
  g.append("g").attr("transform", "translate(0," + p.h + ")")
      .call(d3.axisBottom(x).tickValues(xMinor).tickSize(-4).tickFormat(""))
      .call(tidy);
  g.append("g")
      .call(d3.axisTop(x).tickValues(xMinor).tickSize(-4).tickFormat(""))
      .call(tidy);
  g.append("g")
      .call(d3.axisLeft(y).tickValues(yTicks).tickSizeInner(-6).tickSizeOuter(0).tickPadding(9).tickFormat(d3.format("d")))
      .call(tidy);
  g.append("g")
      .call(d3.axisLeft(y).tickValues(yMinor).tickSize(-4).tickFormat(""))
      .call(tidy);
  g.append("g").attr("transform", "translate(" + p.w + ",0)")
      .call(d3.axisRight(y).tickValues(yMinor).tickSize(-4).tickFormat(""))
      .call(tidy);
  g.append("rect").attr("width", p.w).attr("height", p.h)
      .attr("fill", "none").attr("stroke", "#111").attr("stroke-width", 2.2);

  // panel texts
  svg.append("text").attr("x", 15).attr("y", p.tagY)
      .style("font-family", sans).style("font-size", "20px").style("font-weight", "bold")
      .attr("fill", "#111").text(p.tag);
  svg.append("text").attr("x", p.seasonX).attr("y", p.seasonY)
      .attr("textLength", p.seasonLen).attr("lengthAdjust", "spacingAndGlyphs")
      .style("font-family", light).style("font-size", "35px").attr("fill", "#111")
      .text(p.season);
  svg.append("text")
      .attr("transform", "translate(38," + p.yTitleY + ") rotate(-90)")
      .attr("text-anchor", "middle")
      .attr("textLength", 262).attr("lengthAdjust", "spacingAndGlyphs")
      .style("font-family", light).style("font-size", "39px").attr("fill", "#111")
      .text("temperature (°C)");
  svg.append("text")
      .attr("x", p.xTitleX).attr("y", p.xTitleY)
      .attr("text-anchor", "middle")
      .attr("textLength", 168).attr("lengthAdjust", "spacingAndGlyphs")
      .style("font-family", light).style("font-size", "37px").attr("fill", "#111")
      .text("salinity (‰)");
}
</script>
</body>
</html>
